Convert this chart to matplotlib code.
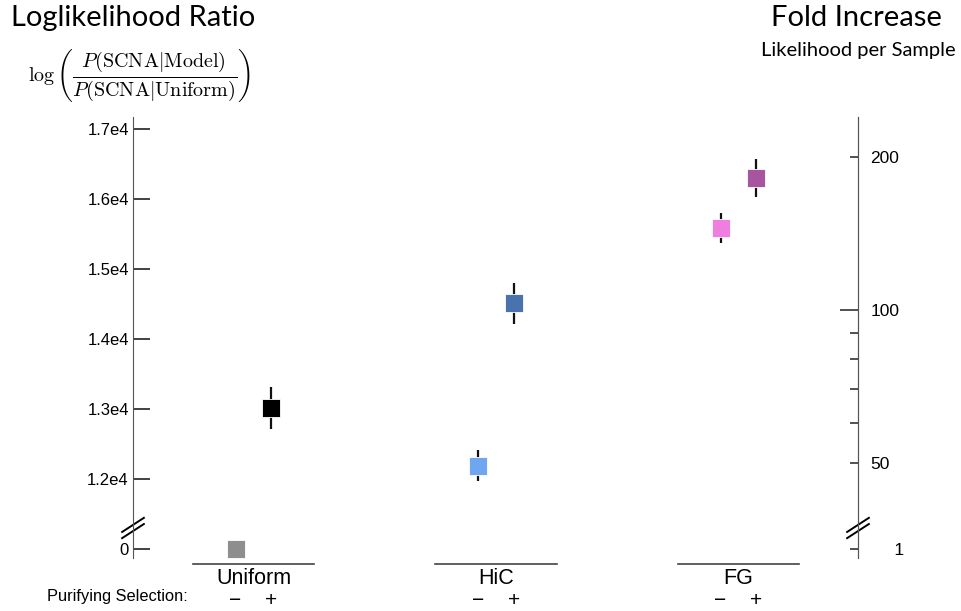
import numpy as np
import matplotlib.pyplot as plt
import matplotlib.transforms as mtransforms

plt.rcParams['font.family'] = ['Liberation Sans', 'DejaVu Sans']
plt.rcParams['mathtext.fontset'] = 'cm'

# data
groups = ["Uniform", "HiC", "FG"]
signs = ["\u2212", "+"]
llr_minus = [0, 12190, 15580]
llr_plus = [13010, 14510, 16300]
err_minus = [0, 220, 215]
err_plus = [300, 290, 270]
colors_minus = ["#8e8e8e", "#6ea6f0", "#f07ee0"]
colors_plus = ["#000000", "#4873ad", "#a6559e"]

left_ticks = [0, 12000, 13000, 14000, 15000, 16000, 17000]
fold_major = [1, 50, 100, 200]
fold_minor = [60, 70, 80, 90]

# axis break: 0 is drawn where 1.1e4 would be
BREAK = 11000


def show(v):
    v = np.asarray(v, dtype=float)
    return np.where(v <= 0, BREAK, v)


# fold increase -> position on llr axis (log scale, 100 at 14414)
def fold_pos(f):
    f = np.asarray(f, dtype=float)
    return np.where(f <= 1, BREAK, 14414 + 7257 * (np.log10(f) - 2))


fig = plt.figure(figsize=(9.61, 6.11), dpi=100)
ax = fig.add_axes([0.1384, 0.0867, 0.7544, 0.7218])
ax2 = ax.twinx()

ymin, ymax = 10871, 17171
ax.set_ylim(ymin, ymax)
ax2.set_ylim(ymin, ymax)
ax.set_xlim(-0.497, 2.493)

xg = np.arange(len(groups))
dx = 0.074
for i in range(len(groups)):
    for x, v, e, c in [(xg[i] - dx, llr_minus[i], err_minus[i], colors_minus[i]),
                       (xg[i] + dx, llr_plus[i], err_plus[i], colors_plus[i])]:
        if e > 0:
            ax.errorbar(x, show(v), yerr=e, fmt='none', ecolor='#111111',
                        elinewidth=1.6, capsize=0, zorder=2)
        ax.plot(x, show(v), marker='s', markersize=12.5, color=c,
                markeredgecolor='white', markeredgewidth=0.6,
                linestyle='none', zorder=3)

# spines
for a in (ax, ax2):
    a.spines['top'].set_visible(False)
    a.spines['bottom'].set_visible(False)
    a.spines['left'].set_color('#555555')
    a.spines['right'].set_color('#555555')
ax2.spines['left'].set_visible(False)

# left axis
ax.set_yticks(show(left_ticks))
ax.set_yticklabels(["0"] + ["%.1fe4" % (t / 1e4) for t in left_ticks[1:]])
ax.tick_params(axis='y', direction='in', length=12, width=1.3,
               color='#333333', labelsize=12, pad=3)

# right axis
ax2.set_yticks(fold_pos(fold_major))
ax2.set_yticklabels(["     1", "50", "100", "200"])
ax2.set_yticks(fold_pos(fold_minor), minor=True)
ax2.tick_params(axis='y', which='both', direction='in', length=6, width=1.2,
                color='#333333', labelsize=12.5, pad=9)
ax2.yaxis.get_major_ticks()[2].tick2line.set_markersize(13)

# group lines and labels
ax.set_xticks(xg)
ax.set_xticklabels(groups, fontsize=15.5)
ax.tick_params(axis='x', length=0, pad=7)
trans = mtransforms.blended_transform_factory(ax.transData, ax.transAxes)
for i in range(len(groups)):
    ax.plot([xg[i] - 0.25, xg[i] + 0.25], [-0.014, -0.014], color='#444444',
            linewidth=1.2, transform=trans, clip_on=False)
    ax.text(xg[i] - dx, -0.097, signs[0], transform=trans, ha='center',
            va='center', fontsize=15)
    ax.text(xg[i] + dx, -0.097, signs[1], transform=trans, ha='center',
            va='center', fontsize=15)
fig.text(0.049, 0.023, "Purifying Selection:", fontsize=11.8, va='center')

# axis break marks
for xa in (0.0, 1.0):
    yb = (11300 - ymin) / (ymax - ymin)
    for off in (-0.007, 0.007):
        ax.plot([xa - 0.015, xa + 0.015], [yb + off - 0.016, yb + off + 0.016],
                color='black', linewidth=1.4, transform=ax.transAxes,
                clip_on=False)

# titles
fig.text(0.011, 0.97, "Loglikelihood Ratio", fontsize=21, family='Lato',
         va='center')
fig.text(0.029, 0.877,
         r'$\log\left(\dfrac{P(\mathrm{SCNA}|\mathrm{Model})}'
         r'{P(\mathrm{SCNA}|\mathrm{Uniform})}\right)$',
         fontsize=14.5, va='center')
fig.text(0.98, 0.97, "Fold Increase", fontsize=21, family='Lato',
         ha='right', va='center')
fig.text(0.994, 0.918, "Likelihood per Sample", fontsize=14.5, family='Lato',
         ha='right', va='center')

plt.savefig("out.png", dpi=100)
